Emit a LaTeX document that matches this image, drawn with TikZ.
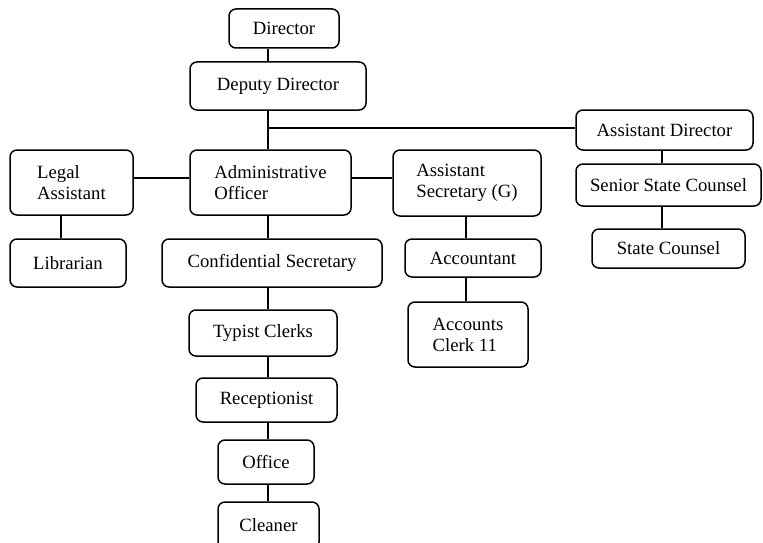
\documentclass[tikz,border=0pt]{standalone}
\usepackage{fontspec}
\setmainfont{Liberation Serif}
\tikzset{
  orgbox/.style={draw, rounded corners=7pt, line width=1.5pt, inner sep=0pt, align=left,
    font=\fontsize{18.7}{21}\selectfont},
  link/.style={line width=1.5pt}
}
\newcommand{\bx}[6]{%
  \node[orgbox, minimum width={(#4-#2)*1pt}, minimum height={(#5-#3)*1pt}] (#1) at ({(#2+#4)/2},{(#3+#5)/2}) {#6};}
\begin{document}
\begin{tikzpicture}[x=1pt,y=-1pt]
\useasboundingbox (0,0) rectangle (763,543);
\bx{dir}{229}{9}{339}{48}{Director}
\bx{dep}{190}{62}{366}{110}{Deputy Director}
\bx{legal}{10}{150}{133}{215}{Legal\\Assistant}
\bx{admin}{190}{150}{351}{215}{Administrative\\Officer}
\bx{asec}{393}{150}{541}{216}{Assistant\\Secretary (G)}
\bx{ad}{576}{110}{753}{150}{Assistant Director}
\bx{ssc}{576}{164}{761}{206}{Senior State Counsel}
\bx{sc}{592}{229}{745}{268}{State Counsel}
\bx{lib}{10}{239}{126}{287}{Librarian}
\bx{conf}{162}{239}{382}{287}{Confidential Secretary}
\bx{acct}{405}{239}{541}{277}{Accountant}
\bx{clerk}{408}{302}{528}{367}{Accounts\\Clerk 11}
\bx{typ}{189}{310}{337}{356}{Typist Clerks}
\bx{rec}{196}{378}{337}{422}{Receptionist}
\bx{off}{218}{440}{314}{484}{Office}
\bx{cln}{218}{502}{319}{549}{Cleaner}
\coordinate (sp) at (268,0);
\coordinate (j) at (268,128);
\coordinate (lx) at (61,0);
\coordinate (ax) at (466,0);
\coordinate (cx) at (662,0);
\draw[link] (dir.south -| sp) -- (dep.north -| sp);
\draw[link] (dep.south -| sp) -- (admin.north -| sp);
\draw[link] (j) -- (j -| ad.west);
\draw[link] (legal.east |- 0,178) -- (admin.west |- 0,178);
\draw[link] (admin.east |- 0,178) -- (asec.west |- 0,178);
\draw[link] (legal.south -| lx) -- (lib.north -| lx);
\draw[link] (admin.south -| sp) -- (conf.north -| sp);
\draw[link] (conf.south -| sp) -- (typ.north -| sp);
\draw[link] (typ.south -| sp) -- (rec.north -| sp);
\draw[link] (rec.south -| sp) -- (off.north -| sp);
\draw[link] (off.south -| sp) -- (cln.north -| sp);
\draw[link] (asec.south -| ax) -- (acct.north -| ax);
\draw[link] (acct.south -| ax) -- (clerk.north -| ax);
\draw[link] (ad.south -| cx) -- (ssc.north -| cx);
\draw[link] (ssc.south -| cx) -- (sc.north -| cx);
\end{tikzpicture}
\end{document}
